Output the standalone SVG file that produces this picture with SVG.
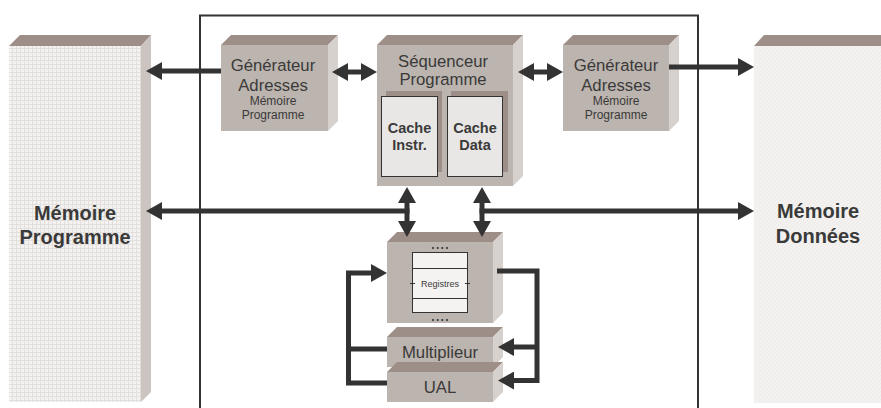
<svg xmlns="http://www.w3.org/2000/svg" width="881" height="408" viewBox="0 0 881 408">
<style>
.front{fill:#bcb4ae}
.top{fill:#9d8e88}
.side{fill:#d7d1cd}
.t{font-family:"Liberation Sans",Arial,sans-serif;fill:#3a3a3a;text-anchor:middle}
.big{font-size:16.7px}
.small{font-size:12px}
.bold{font-weight:bold}
.mem{font-size:20px;font-weight:bold}
.cachet{font-size:14.5px;font-weight:bold}
.conn{stroke:#333;stroke-width:5;fill:none}
.cache{fill:#e9e7e5;stroke:#333;stroke-width:1}
.shadow{fill:#9d8e88}
</style>
<defs>
<marker id="ah" viewBox="0 0 16 18" refX="2" refY="9" markerWidth="16" markerHeight="18" markerUnits="userSpaceOnUse" orient="auto-start-reverse">
<path d="M0,0 L16,9 L0,18 Z" fill="#333"/>
</marker>
<pattern id="grid" width="4" height="4" patternUnits="userSpaceOnUse">
<rect width="4" height="4" fill="#f3f2f1"/>
<path d="M0,0.5 H4 M0.5,0 V4" stroke="#e2dfdc" stroke-width="1"/>
</pattern>
<pattern id="diag" width="4" height="4" patternUnits="userSpaceOnUse">
<rect width="4" height="4" fill="#f3f2f0"/>
<path d="M0,4 L4,0" stroke="#ebe9e6" stroke-width="0.8"/>
</pattern>
</defs>

<rect id="frame" x="200" y="15.5" width="498" height="400" fill="none" stroke="#333" stroke-width="2"/>

<g id="mem-prog">
<polygon class="top" points="9,46 20,35 151,35 141,46"/>
<polygon points="141,46 151,35 151,392 141,402" fill="#cbc4c0"/>
<rect x="9" y="46" width="132" height="356" fill="url(#grid)"/>
<text class="t mem" x="75" y="220">Mémoire</text>
<text class="t mem" x="75" y="244">Programme</text>
</g>

<g id="mem-data">
<polygon class="top" points="754,46 764,35 881,35 881,46"/>
<rect x="754" y="46" width="127" height="357" fill="url(#diag)"/>
<text class="t mem" x="818" y="218">Mémoire</text>
<text class="t mem" x="818" y="243">Données</text>
</g>

<g id="gen-left">
<polygon class="top" points="221,45 231,35 338,35 328,45"/>
<polygon class="side" points="328,45 338,35 338,121 328,131"/>
<rect class="front" x="221" y="45" width="107" height="86"/>
<text class="t big" x="273" y="71">Générateur</text>
<text class="t big" x="273" y="91">Adresses</text>
<text class="t small" x="273" y="105">Mémoire</text>
<text class="t small" x="273" y="119">Programme</text>
</g>

<g id="sequenceur">
<polygon class="top" points="377,45 387,35 523,35 513,45"/>
<polygon class="side" points="513,45 523,35 523,176 513,186"/>
<rect class="front" x="377" y="45" width="136" height="141"/>
<text class="t big" x="443" y="67">Séquenceur</text>
<text class="t big" x="443" y="85">Programme</text>
</g>

<g id="cache-instr">
<rect class="shadow" x="386" y="91" width="56" height="81"/>
<rect class="cache" x="381.5" y="96.5" width="56" height="80"/>
<text class="t cachet" x="409.5" y="133">Cache</text>
<text class="t cachet" x="409.5" y="150">Instr.</text>
</g>

<g id="cache-data">
<rect class="shadow" x="451" y="91" width="57" height="81"/>
<rect class="cache" x="447.5" y="96.5" width="55" height="80"/>
<text class="t cachet" x="475" y="133">Cache</text>
<text class="t cachet" x="475" y="150">Data</text>
</g>

<g id="gen-right">
<polygon class="top" points="563,45 573,35 679,35 669,45"/>
<polygon class="side" points="669,45 679,35 679,121 669,131"/>
<rect class="front" x="563" y="45" width="106" height="86"/>
<text class="t big" x="616" y="71">Générateur</text>
<text class="t big" x="616" y="91">Adresses</text>
<text class="t small" x="616" y="105">Mémoire</text>
<text class="t small" x="616" y="119">Programme</text>
</g>

<g id="registres">
<polygon class="top" points="387,242 397,232 503,232 493,242"/>
<polygon class="side" points="493,242 503,232 503,313 493,323"/>
<rect class="front" x="387" y="242" width="106" height="81"/>
<rect x="412.5" y="252.5" width="55" height="60" fill="#f4f3f1" stroke="#333" stroke-width="1"/>
<path d="M412.5,268.5 H467.5 M412.5,298.5 H467.5" stroke="#333" stroke-width="1"/>
<path d="M410,283.5 H415 M465,283.5 H470" stroke="#333" stroke-width="1"/>
<text class="t" x="440" y="287" font-size="9" fill="#555">Registres</text>
<g fill="#333">
<circle cx="433" cy="248" r="1.1"/><circle cx="437.7" cy="248" r="1.1"/><circle cx="442.3" cy="248" r="1.1"/><circle cx="447" cy="248" r="1.1"/>
<circle cx="433" cy="320" r="1.1"/><circle cx="437.7" cy="320" r="1.1"/><circle cx="442.3" cy="320" r="1.1"/><circle cx="447" cy="320" r="1.1"/>
</g>
</g>

<g id="multiplieur">
<polygon class="top" points="387,337 397,327 503,327 493,337"/>
<polygon class="side" points="493,337 503,327 503,357 493,367"/>
<rect class="front" x="387" y="337" width="106" height="30"/>
<text class="t big" x="440" y="358">Multiplieur</text>
</g>

<g id="ual">
<polygon class="top" points="387,372 397,362 503,362 493,372"/>
<polygon class="side" points="493,372 503,362 503,392 493,402"/>
<rect class="front" x="387" y="372" width="106" height="30"/>
<text class="t big" x="440" y="393">UAL</text>
</g>

<g id="connectors">
<line class="conn" x1="221" y1="71" x2="160" y2="71" marker-end="url(#ah)"/>
<line class="conn" x1="346" y1="72" x2="363" y2="72" marker-start="url(#ah)" marker-end="url(#ah)"/>
<line class="conn" x1="532" y1="72" x2="549" y2="72" marker-start="url(#ah)" marker-end="url(#ah)"/>
<line class="conn" x1="669" y1="67" x2="740" y2="67" marker-end="url(#ah)"/>
<line class="conn" x1="409.5" y1="211" x2="160" y2="211" marker-end="url(#ah)"/>
<line class="conn" x1="479.5" y1="211" x2="740" y2="211" marker-end="url(#ah)"/>
<line class="conn" x1="407" y1="201" x2="407" y2="223" marker-start="url(#ah)" marker-end="url(#ah)"/>
<line class="conn" x1="482" y1="201" x2="482" y2="223" marker-start="url(#ah)" marker-end="url(#ah)"/>
<path class="conn" d="M497,271 H537 V380.5 H512" marker-end="url(#ah)"/>
<path class="conn" d="M537,347 H512" marker-end="url(#ah)"/>
<path class="conn" d="M387,383 H348.5 V273 H373" marker-end="url(#ah)"/>
<path class="conn" d="M387,349 H348.5"/>
</g>
</svg>
